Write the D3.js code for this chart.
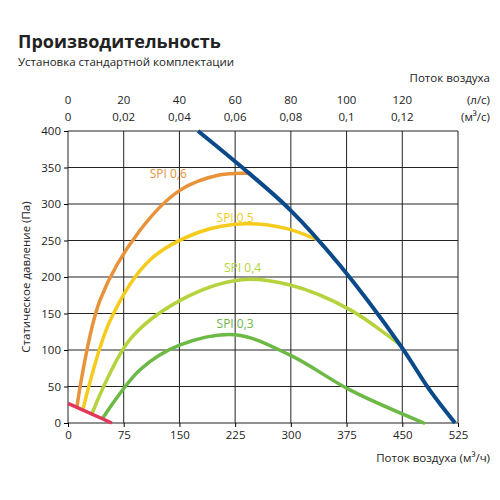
<!DOCTYPE html>
<html><head><meta charset="utf-8">
<script src="https://cdn.jsdelivr.net/npm/d3@7"></script>
<style>body{margin:0;background:#fff;font-family:"Open Sans",sans-serif}</style>
</head><body><div id="canvas"></div>
<script>
// data: x = air flow m3/h, y = static pressure Pa
var xTicks = [0, 75, 150, 225, 300, 375, 450, 525];
var yTicks = [0, 50, 100, 150, 200, 250, 300, 350, 400];
var topLs = ["0", "20", "40", "60", "80", "100", "120"];
var topM3s = ["0", "0,02", "0,04", "0,06", "0,08", "0,1", "0,12"];

var blueCurve = [[175,400],[231,353],[299,292],[366,216],[447,107],[487,45],[521,0]];
var redCurve = [[0,27],[59,0]];
var spi06 = [[12,22],[43,168],[97,264],[151,319],[205,340],[245,342]];
var spi05 = [[20,18],[57,141],[110,223],[178,262],[238,273],[292,267],[336,251]];
var spi04 = [[32,12],[83,114],[151,168],[231,196],[299,189],[380,155],[447,107]];
var spi03 = [[47,7],[97,73],[151,107],[225,121],[299,93],[380,45],[479,0]];

var spiNames = ["SPI 0,6", "SPI 0,5", "SPI 0,4", "SPI 0,3"];
var spiColors = ["#e8923a", "#f5cc1d", "#b5d33d", "#6cb945"];
var spiLabelPos = [[110,335],[200,275],[210,207],[200,130]];

var W = 500, H = 500;
var svg = d3.select("#canvas").append("svg").attr("width", W).attr("height", H);

var x = d3.scaleLinear().domain([0, 525]).range([68, 458]);
var y = d3.scaleLinear().domain([0, 400]).range([423, 131]);

svg.append("text").attr("x", 18).attr("y", 48).attr("font-size", 18).attr("font-weight", "bold")
   .attr("fill", "#222").text("Производительность");
svg.append("text").attr("x", 18).attr("y", 66).attr("font-size", 11.5).attr("fill", "#222")
   .text("Установка стандартной комплектации");

// grid
var grid = svg.append("g").attr("stroke", "#222").attr("stroke-width", 1);
xTicks.forEach(function(t){
    grid.append("line").attr("x1", x(t)).attr("x2", x(t)).attr("y1", y(0)).attr("y2", y(400));
});
yTicks.forEach(function(t){
    grid.append("line").attr("x1", x(0)).attr("x2", x(525)).attr("y1", y(t)).attr("y2", y(t));
});

var axisB = svg.append("g").attr("transform", "translate(0," + y(0) + ")")
    .call(d3.axisBottom(x).tickValues(xTicks).tickSize(4).tickPadding(4));
var axisL = svg.append("g").attr("transform", "translate(" + x(0) + ",0)")
    .call(d3.axisLeft(y).tickValues(yTicks).tickSize(4).tickPadding(3));
[axisB, axisL].forEach(function(a){
    a.select(".domain").remove();
    a.selectAll("text").attr("font-size", 11.5).attr("font-family", "Open Sans").attr("fill", "#222");
});

// top labels
topLs.forEach(function(t, i){
    svg.append("text").attr("x", x(xTicks[i])).attr("y", 104).attr("text-anchor", "middle")
       .attr("font-size", 11.5).attr("fill", "#222").text(t);
    svg.append("text").attr("x", x(xTicks[i])).attr("y", 121).attr("text-anchor", "middle")
       .attr("font-size", 11.5).attr("fill", "#222").text(topM3s[i]);
});
svg.append("text").attr("x", 490).attr("y", 104).attr("text-anchor", "end").attr("font-size", 11.5).attr("fill", "#222").text("(л/с)");
svg.append("text").attr("x", 490).attr("y", 121).attr("text-anchor", "end").attr("font-size", 11.5).attr("fill", "#222").text("(м³/с)");
svg.append("text").attr("x", 490).attr("y", 82).attr("text-anchor", "end").attr("font-size", 11.5).attr("fill", "#222").text("Поток воздуха");
svg.append("text").attr("x", 490).attr("y", 462).attr("text-anchor", "end").attr("font-size", 11.5).attr("fill", "#222").text("Поток воздуха (м³/ч)");
svg.append("text").attr("transform", "translate(30,277) rotate(-90)").attr("text-anchor", "middle")
   .attr("font-size", 11.5).attr("fill", "#222").text("Статическое давление (Па)");

var line = d3.line().x(function(d){ return x(d[0]); }).y(function(d){ return y(d[1]); })
    .curve(d3.curveCatmullRom.alpha(0.5));

[spi06, spi05, spi04, spi03].forEach(function(s, i){
    svg.append("path").attr("d", line(s)).attr("fill", "none")
       .attr("stroke", spiColors[i]).attr("stroke-width", 3.5).attr("stroke-linecap", "round");
    svg.append("text").attr("x", x(spiLabelPos[i][0])).attr("y", y(spiLabelPos[i][1]))
       .attr("font-size", 12).attr("fill", spiColors[i]).text(spiNames[i]);
});
svg.append("path").attr("d", line(redCurve)).attr("fill", "none")
   .attr("stroke", "#e2365a").attr("stroke-width", 3.5);
svg.append("path").attr("d", line(blueCurve)).attr("fill", "none")
   .attr("stroke", "#0b4a8a").attr("stroke-width", 4);
</script></body></html>
